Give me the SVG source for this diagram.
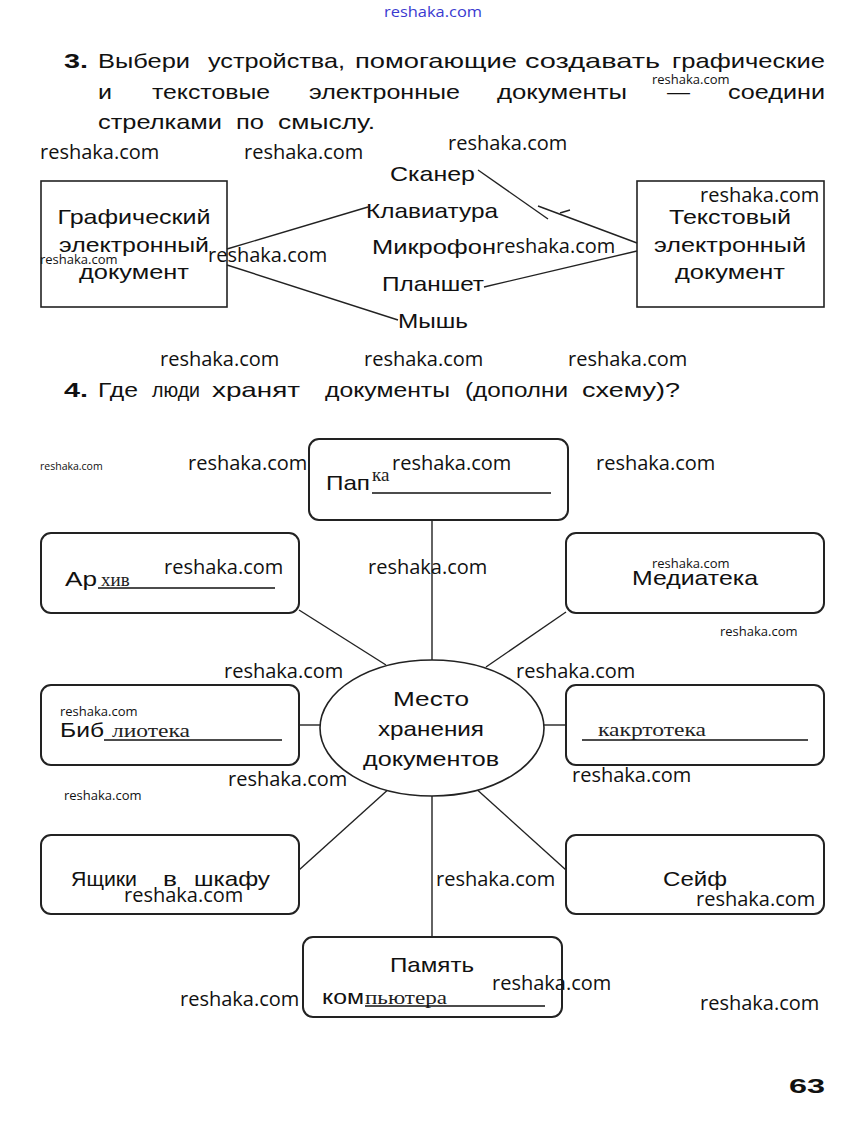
<svg xmlns="http://www.w3.org/2000/svg" width="863" height="1122" viewBox="0 0 863 1122">
<style>
.p{font-family:"Liberation Sans",Arial,sans-serif;font-size:21px;fill:#111}
.b{font-weight:bold}
.w{font-family:"Open Sans",sans-serif;font-size:20px;fill:#111}
.ws{font-family:"Open Sans",sans-serif;font-size:13px;fill:#111}
.wt{font-family:"Open Sans",sans-serif;font-size:10.5px;fill:#111}
.h{font-family:"Liberation Serif","Times New Roman",serif;font-size:19px;fill:#222}
.box{fill:#fff;stroke:#222;stroke-width:1.6}
.rb{fill:#fff;stroke:#222;stroke-width:2}
.ln{stroke:#222;stroke-width:1.4;fill:none}
.ul{stroke:#111;stroke-width:1.6}
</style>
<rect width="863" height="1122" fill="#fff"/>
<text x="384" y="17" font-family="Open Sans,sans-serif" font-size="15" fill="#3a3ad0" textLength="98" lengthAdjust="spacingAndGlyphs">reshaka.com</text>

<g id="task3-text" class="p">
<text x="64" y="68" class="b" textLength="24" lengthAdjust="spacingAndGlyphs">3.</text>
<text x="98" y="68" textLength="92" lengthAdjust="spacingAndGlyphs">Выбери</text>
<text x="208" y="68" textLength="137" lengthAdjust="spacingAndGlyphs">устройства,</text>
<text x="355" y="68" textLength="162" lengthAdjust="spacingAndGlyphs">помогающие</text>
<text x="525" y="68" textLength="135" lengthAdjust="spacingAndGlyphs">создавать</text>
<text x="672" y="68" textLength="153" lengthAdjust="spacingAndGlyphs">графические</text>
<text x="98" y="99" textLength="14" lengthAdjust="spacingAndGlyphs">и</text>
<text x="152" y="99" textLength="118" lengthAdjust="spacingAndGlyphs">текстовые</text>
<text x="309" y="99" textLength="151" lengthAdjust="spacingAndGlyphs">электронные</text>
<text x="497" y="99" textLength="130" lengthAdjust="spacingAndGlyphs">документы</text>
<text x="667" y="99" textLength="23" lengthAdjust="spacingAndGlyphs">—</text>
<text x="728" y="99" textLength="97" lengthAdjust="spacingAndGlyphs">соедини</text>
<text x="98" y="129" textLength="124" lengthAdjust="spacingAndGlyphs">стрелками</text>
<text x="236" y="129" textLength="28" lengthAdjust="spacingAndGlyphs">по</text>
<text x="278" y="129" textLength="97" lengthAdjust="spacingAndGlyphs">смыслу.</text>
</g>

<g id="graphic-doc">
<rect class="box" x="41" y="181" width="186" height="126"/>
<text class="p" x="134" y="224" text-anchor="middle" textLength="153" lengthAdjust="spacingAndGlyphs">Графический</text>
<text class="p" x="134" y="252" text-anchor="middle" textLength="150" lengthAdjust="spacingAndGlyphs">электронный</text>
<text class="p" x="134" y="279" text-anchor="middle" textLength="110" lengthAdjust="spacingAndGlyphs">документ</text>
</g>
<g id="text-doc">
<rect class="box" x="637" y="181" width="187" height="126"/>
<text class="p" x="730" y="224" text-anchor="middle" textLength="122" lengthAdjust="spacingAndGlyphs">Текстовый</text>
<text class="p" x="730" y="252" text-anchor="middle" textLength="152" lengthAdjust="spacingAndGlyphs">электронный</text>
<text class="p" x="730" y="279" text-anchor="middle" textLength="110" lengthAdjust="spacingAndGlyphs">документ</text>
</g>
<g id="devices" class="p">
<text x="390" y="181" textLength="85" lengthAdjust="spacingAndGlyphs">Сканер</text>
<text x="366" y="218" textLength="132" lengthAdjust="spacingAndGlyphs">Клавиатура</text>
<text x="372" y="254" textLength="124" lengthAdjust="spacingAndGlyphs">Микрофон</text>
<text x="382" y="291" textLength="102" lengthAdjust="spacingAndGlyphs">Планшет</text>
<text x="398" y="328" textLength="70" lengthAdjust="spacingAndGlyphs">Мышь</text>
</g>
<g id="task3-connectors" class="ln">
<line x1="227" y1="249" x2="368" y2="207"/>
<line x1="227" y1="265" x2="398" y2="320"/>
<line x1="478" y1="170" x2="548" y2="219"/>
<line x1="538" y1="206" x2="637" y2="243"/>
<line x1="560" y1="213" x2="570" y2="210"/>
<line x1="484" y1="287" x2="637" y2="251"/>
</g>

<g id="task4-text" class="p">
<text x="64" y="397" class="b" textLength="24" lengthAdjust="spacingAndGlyphs">4.</text>
<text x="98" y="397" textLength="40" lengthAdjust="spacingAndGlyphs">Где</text>
<text x="152" y="397" textLength="48" lengthAdjust="spacingAndGlyphs">люди</text>
<text x="212" y="397" textLength="88" lengthAdjust="spacingAndGlyphs">хранят</text>
<text x="325" y="397" textLength="125" lengthAdjust="spacingAndGlyphs">документы</text>
<text x="465" y="397" textLength="103" lengthAdjust="spacingAndGlyphs">(дополни</text>
<text x="582" y="397" textLength="98" lengthAdjust="spacingAndGlyphs">схему)?</text>
</g>

<g id="task4-connectors" class="ln">
<line x1="432" y1="520" x2="432" y2="660"/>
<line x1="299" y1="610" x2="386" y2="665"/>
<line x1="566" y1="612" x2="486" y2="667"/>
<line x1="299" y1="725" x2="320" y2="725"/>
<line x1="544" y1="725" x2="566" y2="725"/>
<line x1="299" y1="870" x2="391" y2="787"/>
<line x1="566" y1="870" x2="473" y2="786"/>
<line x1="432" y1="796" x2="432" y2="937"/>
</g>

<g id="center">
<ellipse cx="432" cy="728" rx="112" ry="68" fill="#fff" stroke="#222" stroke-width="1.6"/>
<text class="p" x="431" y="706" text-anchor="middle" textLength="76" lengthAdjust="spacingAndGlyphs">Место</text>
<text class="p" x="431" y="736" text-anchor="middle" textLength="106" lengthAdjust="spacingAndGlyphs">хранения</text>
<text class="p" x="431" y="766" text-anchor="middle" textLength="136" lengthAdjust="spacingAndGlyphs">документов</text>
</g>

<g id="papka">
<rect class="rb" x="309" y="439" width="259" height="81" rx="10"/>
<text class="p" x="326" y="490" textLength="44" lengthAdjust="spacingAndGlyphs">Пап</text>
<text class="h" x="372" y="481" font-size="17">ка</text>
<line class="ul" x1="372" y1="493" x2="551" y2="493"/>
</g>
<g id="arkhiv">
<rect class="rb" x="41" y="533" width="258" height="80" rx="10"/>
<text class="p" x="65" y="586" textLength="32" lengthAdjust="spacingAndGlyphs">Ар</text>
<text class="h" x="101" y="586" font-size="16">хив</text>
<line class="ul" x1="98" y1="588" x2="275" y2="588"/>
</g>
<g id="mediateka">
<rect class="rb" x="566" y="533" width="258" height="80" rx="10"/>
<text class="p" x="695" y="585" text-anchor="middle" textLength="126" lengthAdjust="spacingAndGlyphs">Медиатека</text>
</g>
<g id="biblioteka">
<rect class="rb" x="41" y="685" width="258" height="80" rx="10"/>
<text class="p" x="60" y="737" textLength="44" lengthAdjust="spacingAndGlyphs">Биб</text>
<text class="h" x="112" y="737" textLength="78" lengthAdjust="spacingAndGlyphs">лиотека</text>
<line class="ul" x1="104" y1="740" x2="282" y2="740"/>
</g>
<g id="kartoteka">
<rect class="rb" x="566" y="685" width="258" height="80" rx="10"/>
<text class="h" x="598" y="736" textLength="108" lengthAdjust="spacingAndGlyphs">какртотека</text>
<line class="ul" x1="582" y1="740" x2="808" y2="740"/>
</g>
<g id="yashchiki">
<rect class="rb" x="41" y="835" width="258" height="79" rx="10"/>
<text class="p" x="71" y="886" textLength="66" lengthAdjust="spacingAndGlyphs">Ящики</text>
<text class="p" x="163" y="886" textLength="14" lengthAdjust="spacingAndGlyphs">в</text>
<text class="p" x="194" y="886" textLength="76" lengthAdjust="spacingAndGlyphs">шкафу</text>
</g>
<g id="seif">
<rect class="rb" x="566" y="835" width="258" height="79" rx="10"/>
<text class="p" x="695" y="886" text-anchor="middle" textLength="64" lengthAdjust="spacingAndGlyphs">Сейф</text>
</g>
<g id="pamyat">
<rect class="rb" x="303" y="937" width="259" height="80" rx="10"/>
<text class="p" x="432" y="972" text-anchor="middle" textLength="84" lengthAdjust="spacingAndGlyphs">Память</text>
<text class="p" x="322" y="1004" font-size="18" textLength="42" lengthAdjust="spacingAndGlyphs">ком</text>
<text class="h" x="365" y="1004" textLength="82" lengthAdjust="spacingAndGlyphs">пьютера</text>
<line class="ul" x1="365" y1="1006" x2="545" y2="1006"/>
</g>

<text class="p b" x="789" y="1093" font-size="27" textLength="36" lengthAdjust="spacingAndGlyphs">63</text>

<g id="watermarks">
<text class="ws" x="652" y="84">reshaka.com</text>
<text class="w" x="40" y="159">reshaka.com</text>
<text class="w" x="244" y="159">reshaka.com</text>
<text class="w" x="448" y="150">reshaka.com</text>
<text class="w" x="700" y="202">reshaka.com</text>
<text class="ws" x="40" y="264">reshaka.com</text>
<text class="w" x="208" y="262">reshaka.com</text>
<text class="w" x="496" y="253">reshaka.com</text>
<text class="w" x="160" y="366">reshaka.com</text>
<text class="w" x="364" y="366">reshaka.com</text>
<text class="w" x="568" y="366">reshaka.com</text>
<text class="wt" x="40" y="470">reshaka.com</text>
<text class="w" x="188" y="470">reshaka.com</text>
<text class="w" x="392" y="470">reshaka.com</text>
<text class="w" x="596" y="470">reshaka.com</text>
<text class="w" x="164" y="574">reshaka.com</text>
<text class="w" x="368" y="574">reshaka.com</text>
<text class="ws" x="652" y="568">reshaka.com</text>
<text class="ws" x="720" y="636">reshaka.com</text>
<text class="w" x="224" y="678">reshaka.com</text>
<text class="w" x="516" y="678">reshaka.com</text>
<text class="ws" x="60" y="716">reshaka.com</text>
<text class="w" x="228" y="786">reshaka.com</text>
<text class="w" x="572" y="782">reshaka.com</text>
<text class="ws" x="64" y="800">reshaka.com</text>
<text class="w" x="436" y="886">reshaka.com</text>
<text class="w" x="124" y="902">reshaka.com</text>
<text class="w" x="696" y="906">reshaka.com</text>
<text class="w" x="492" y="990">reshaka.com</text>
<text class="w" x="180" y="1006">reshaka.com</text>
<text class="w" x="700" y="1010">reshaka.com</text>
</g>
</svg>
